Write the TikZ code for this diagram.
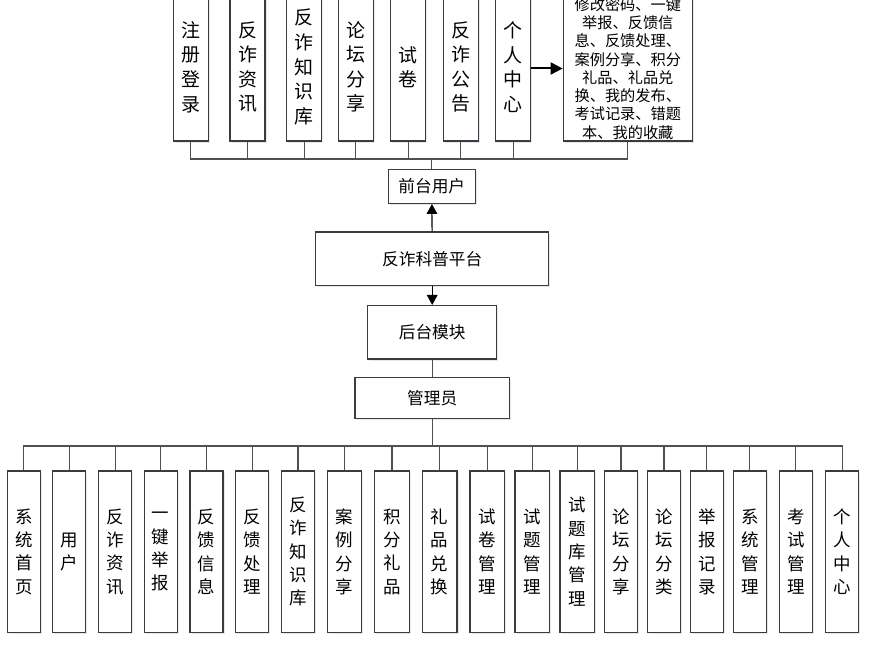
\documentclass[tikz,border=0pt]{standalone}
\usepackage{fontspec}
\setmainfont{Noto Sans CJK SC}
\usetikzlibrary{arrows.meta,shadows}
\definecolor{LineGray}{HTML}{505050}
\definecolor{BoxGray}{HTML}{3C3C3C}
\definecolor{ShadowBlue}{HTML}{E1E9F6}

\begin{document}
\begin{tikzpicture}[
  x=0.75pt,y=-0.75pt,
  box/.style={draw=BoxGray,line width=1pt,fill=white,inner sep=0pt,align=center,
    drop shadow={shadow xshift=1.2pt,shadow yshift=-1.2pt,fill=ShadowBlue,opacity=1},
    font=\fontsize{12.5}{15}\selectfont},
  topbox/.style={box,minimum width=26.25pt,minimum height=111pt,
    font=\fontsize{14.2}{18.4}\selectfont},
  lowbox/.style={box,minimum width=24.75pt,minimum height=121pt,
    font=\fontsize{13.1}{17.5}\selectfont},
  widebox/.style={lowbox,minimum width=25.9pt},
  link/.style={draw=LineGray,line width=0.8pt},
  arrow/.style={-{Triangle[length=7.5pt,width=8pt]},line width=0.8pt,color=black}
]
  \clip (0,0) rectangle (874,645);

  % front end
  \node[topbox] (reg) at (190.8,67) {注\\册\\登\\录};
  \node[topbox] (news) at (247.5,67) {反\\诈\\资\\讯};
  \node[topbox] (kb) at (304.2,67) {反\\诈\\知\\识\\库};
  \node[topbox] (forum) at (355.8,67) {论\\坛\\分\\享};
  \node[topbox] (paper) at (408.2,67) {试\\卷};
  \node[topbox] (notice) at (460.8,67) {反\\诈\\公\\告};
  \node[topbox] (center) at (513.3,67) {个\\人\\中\\心};
  \node[box,minimum width=96.75pt,minimum height=108.75pt,
    font=\fontsize{11.4}{13.7}\selectfont] (centerlist) at (627.8,68.5)
    {修改密码、一键\\举报、反馈信\\息、反馈处理、\\案例分享、积分\\礼品、礼品兑\\换、我的发布、\\考试记录、错题\\本、我的收藏};

  % middle
  \node[box,minimum width=65.25pt,minimum height=25.5pt] (front) at (431.8,186.3) {前台用户};
  \node[box,minimum width=174.75pt,minimum height=40pt] (platform) at (432.2,258.7) {反诈科普平台};
  \node[box,minimum width=96.75pt,minimum height=40pt] (backend) at (432.2,332.3) {后台模块};
  \node[box,minimum width=115.7pt,minimum height=30.5pt] (admin) at (432.2,398) {管理员};

  % back end
  \node[lowbox] (home) at (23.8,551.7) {系\\统\\首\\页};
  \node[lowbox] (user) at (69.2,551.7) {用\\户};
  \node[lowbox] (bnews) at (115.2,551.7) {反\\诈\\资\\讯};
  \node[lowbox] (report) at (160.7,551.7) {一\\键\\举\\报};
  \node[lowbox] (fbinfo) at (206.5,551.7) {反\\馈\\信\\息};
  \node[lowbox] (fbdeal) at (252.2,551.7) {反\\馈\\处\\理};
  \node[lowbox] (bkb) at (298,551.7) {反\\诈\\知\\识\\库};
  \node[widebox] (cases) at (344.5,551.7) {案\\例\\分\\享};
  \node[widebox] (points) at (392,551.7) {积\\分\\礼\\品};
  \node[widebox] (gifts) at (439.7,551.7) {礼\\品\\兑\\换};
  \node[widebox] (papermg) at (487.3,551.7) {试\\卷\\管\\理};
  \node[widebox] (quesmg) at (532.2,551.7) {试\\题\\管\\理};
  \node[widebox] (bankmg) at (577.2,551.7) {试\\题\\库\\管\\理};
  \node[lowbox] (fshare) at (621,551.7) {论\\坛\\分\\享};
  \node[lowbox] (fcat) at (664,551.7) {论\\坛\\分\\类};
  \node[lowbox] (replog) at (706.8,551.7) {举\\报\\记\\录};
  \node[lowbox] (sysmg) at (749.8,551.7) {系\\统\\管\\理};
  \node[lowbox] (exammg) at (795.8,551.7) {考\\试\\管\\理};
  \node[lowbox] (bcenter) at (842.2,551.7) {个\\人\\中\\心};

  \coordinate (topbus) at (431.8,159);
  \coordinate (lowbus) at (432.2,446);

  \draw[link] (front) -- (topbus);
  \foreach \n in {reg,news,kb,forum,paper,notice,center,centerlist}
    \draw[link] (\n.south) |- (topbus);
  \draw[arrow,line width=1.5pt,-{Triangle[length=9pt,width=9pt]}]
    (center.east |- centerlist) -- (centerlist);
  \draw[arrow] (platform) -- (front);
  \draw[arrow] (platform) -- (backend);
  \draw[link] (backend) -- (admin);
  \draw[link] (admin) -- (lowbus);
  \foreach \n in {home,user,bnews,report,fbinfo,fbdeal,bkb,cases,points,gifts,
      papermg,quesmg,bankmg,fshare,fcat,replog,sysmg,exammg,bcenter}
    \draw[link] (\n.north) |- (lowbus);
\end{tikzpicture}
\end{document}
